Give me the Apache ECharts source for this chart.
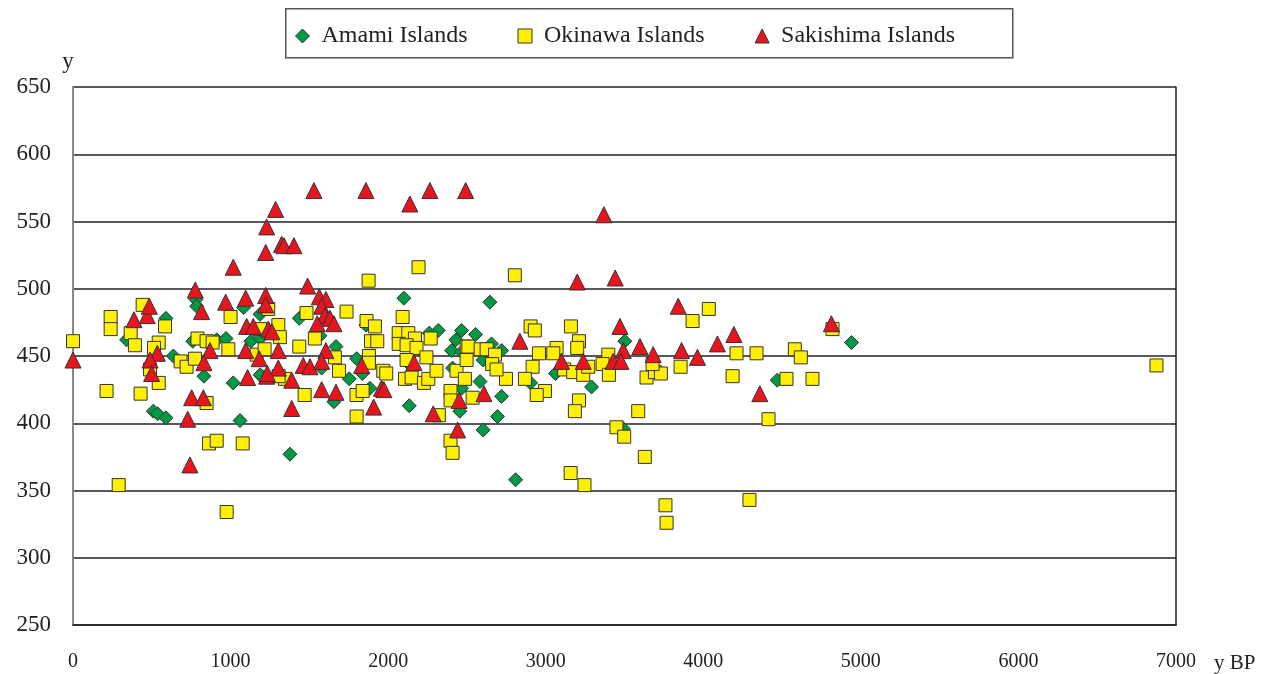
<!DOCTYPE html>
<html>
<head>
<meta charset="utf-8">
<script src="https://cdn.jsdelivr.net/npm/echarts@6/dist/echarts.min.js"></script>
<style>
  html, body { margin: 0; padding: 0; background: #fff; }
  #scatter { width: 1271px; height: 674px; }
</style>
</head>
<body>
<div id="scatter"></div>
<script>
// [yBP, y]
const amami = [
  [340, 462], [590, 478], [780, 492], [785, 487], [760, 461], [912, 462], [971, 463],
  [1083, 486], [1129, 461], [1187, 463], [1187, 481], [2100, 493], [1436, 478], [1859, 473],
  [1567, 465], [1669, 457], [2261, 467], [2318, 469], [2466, 469], [2430, 462], [2403, 454],
  [2466, 453], [2646, 490], [2555, 466], [3502, 461], [2656, 459], [2720, 454], [4941, 460],
  [637, 450], [831, 435], [510, 409], [537, 407], [590, 404], [1017, 430], [1197, 435],
  [1060, 402], [1377, 377], [1656, 416], [1578, 441], [1753, 433], [1836, 437], [1884, 426],
  [1800, 448], [2141, 443], [2134, 413], [2455, 409], [2466, 426], [2409, 441], [1188, 436],
  [2904, 430], [3062, 437], [3291, 427], [3492, 396], [2809, 358], [2603, 447], [2583, 431],
  [2720, 420], [2694, 405], [2603, 395], [4469, 432]
];

const okinawa = [
  [0, 461], [239, 479], [239, 470], [213, 424], [290, 354], [366, 467], [393, 458],
  [442, 488], [429, 422], [584, 472], [544, 460], [514, 456], [544, 430], [489, 440],
  [683, 446], [721, 442], [774, 448], [790, 463], [848, 461], [886, 460], [986, 455],
  [1000, 479], [848, 415], [863, 385], [912, 387], [1077, 385], [975, 334], [1187, 470],
  [1165, 451], [1239, 485], [1303, 473], [1313, 464], [1216, 455], [1345, 433], [1305, 435],
  [1482, 482], [1436, 457], [1470, 421], [1535, 463], [1736, 483], [1876, 506], [2193, 516],
  [2092, 479], [1863, 476], [1916, 472], [1891, 461], [1931, 461], [2067, 467], [2128, 467],
  [2170, 463], [2270, 463], [2067, 459], [2117, 458], [2180, 456], [2498, 457], [1662, 449],
  [1688, 439], [1799, 421], [1838, 424], [1800, 405], [1969, 439], [1988, 437], [1878, 450],
  [1878, 445], [2107, 433], [2149, 434], [2227, 430], [2255, 433], [2307, 439], [2243, 449],
  [2117, 447], [2322, 406], [2396, 424], [2396, 417], [2396, 387], [2409, 378], [2434, 439],
  [2487, 433], [2804, 510], [2904, 472], [2931, 469], [3160, 472], [2509, 457], [2587, 455],
  [2625, 455], [2678, 451], [3211, 461], [3200, 456], [3069, 456], [2957, 452], [3048, 452],
  [3397, 451], [4035, 485], [3932, 476], [4820, 470], [4211, 452], [4338, 452], [4581, 455],
  [4619, 449], [2917, 442], [2868, 433], [2748, 433], [2995, 424], [2943, 421], [3117, 440],
  [3174, 438], [3238, 436], [3270, 442], [3211, 417], [3185, 409], [3361, 444], [3401, 436],
  [3587, 409], [3449, 397], [3498, 390], [3629, 375], [3158, 363], [3246, 354], [3760, 339],
  [3767, 326], [2536, 419], [2498, 447], [2660, 444], [2688, 440], [3640, 434], [3693, 438],
  [3731, 437], [3678, 444], [3856, 442], [4186, 435], [4528, 433], [4693, 433], [4414, 403],
  [4293, 343], [6876, 443]
];

const sakishima = [
  [0, 447], [387, 477], [471, 480], [484, 487], [535, 452], [489, 447], [499, 437],
  [776, 499], [816, 483], [969, 490], [1096, 493], [1017, 516], [1223, 527], [1229, 546],
  [1223, 495], [1223, 488], [869, 454], [1096, 454], [1102, 472], [1144, 472], [1182, 448],
  [1529, 573], [1859, 573], [2265, 573], [2492, 573], [2138, 563], [1286, 559], [1324, 533],
  [1339, 532], [1402, 532], [1489, 502], [1563, 494], [1605, 492], [1578, 487], [1599, 480],
  [1631, 478], [1656, 474], [1550, 474], [1240, 470], [1262, 468], [1605, 454], [1303, 454],
  [3369, 555], [3200, 505], [3441, 508], [3471, 472], [2836, 461], [3598, 457], [3492, 454],
  [3682, 451], [3841, 487], [4813, 474], [4194, 466], [4090, 459], [3862, 454], [3963, 449],
  [831, 445], [728, 403], [753, 419], [827, 419], [1108, 434], [1229, 435], [742, 369],
  [1388, 411], [1578, 425], [1669, 423], [1388, 432], [1461, 443], [1504, 442], [1578, 446],
  [1832, 443], [1958, 426], [1973, 425], [1908, 412], [2164, 445], [2286, 407], [2451, 417],
  [2441, 395], [1303, 441], [1233, 437], [3100, 446], [3238, 446], [3428, 446], [3477, 446],
  [4359, 422], [2608, 422]
];

const seriesNames = ['Amami Islands', 'Okinawa Islands', 'Sakishima Islands'];
const xTicks = { min: 0, max: 7000, step: 1000 };
const yTicks = { min: 250, max: 650, step: 50 };

const serif = '"Liberation Serif", "DejaVu Serif", serif';

const chart = echarts.init(document.getElementById('scatter'));
chart.setOption({
  animation: false,
  backgroundColor: '#fff',
  grid: {
    left: 73,
    right: 95,
    top: 87,
    bottom: 49
  },
  // 凡例の枠
  graphic: [
    {
      type: 'rect',
      left: 285,
      top: 8,
      shape: { width: 727, height: 49 },
      style: { fill: '#fff', stroke: '#555', lineWidth: 1.5 },
      z: 0
    }
  ],
  legend: {
    left: 290,
    top: 19,
    itemWidth: 14,
    itemHeight: 14,
    itemGap: 50,
    itemStyle: { borderColor: '#333', borderWidth: 1 },
    textStyle: {
      fontFamily: serif,
      fontSize: 24,
      color: '#222',
      padding: [0, 0, 0, 7]
    },
    data: [
      { name: seriesNames[0], icon: 'diamond' },
      { name: seriesNames[1], icon: 'rect' },
      { name: seriesNames[2], icon: 'triangle' }
    ],
    z: 5
  },
  xAxis: {
    type: 'value',
    min: xTicks.min,
    max: xTicks.max,
    interval: xTicks.step,
    name: 'y BP',
    nameLocation: 'end',
    nameGap: 38,
    nameTextStyle: {
      fontFamily: serif,
      fontSize: 21,
      color: '#222',
      verticalAlign: 'top',
      padding: [28, 0, 0, 0]
    },
    axisLine: { show: true, lineStyle: { color: '#222', width: 1.5 } },
    axisTick: { show: false },
    splitLine: { show: false },
    axisLabel: {
      margin: 27,
      fontFamily: serif,
      fontSize: 20,
      color: '#222',
      formatter: (v) => String(v)
    }
  },
  yAxis: [
    {
      type: 'value',
      min: yTicks.min,
      max: yTicks.max,
      interval: yTicks.step,
      name: 'y',
      nameLocation: 'end',
      nameGap: 14,
      nameTextStyle: {
        fontFamily: serif,
        fontSize: 23,
        color: '#222',
        padding: [0, 10, 0, 0]
      },
      axisLine: { show: true, lineStyle: { color: '#888', width: 2 } },
      axisTick: { show: false },
      splitLine: { show: true, lineStyle: { color: '#222', width: 1.5 } },
      axisLabel: {
        margin: 22,
        fontFamily: serif,
        fontSize: 23,
        color: '#222'
      }
    },
    {
      // 右側の枠線
      type: 'value',
      position: 'right',
      min: yTicks.min,
      max: yTicks.max,
      interval: yTicks.step,
      axisLine: { show: true, lineStyle: { color: '#222', width: 1.5 } },
      axisTick: { show: false },
      axisLabel: { show: false },
      splitLine: { show: false }
    }
  ],
  series: [
    {
      name: seriesNames[0],
      type: 'scatter',
      symbol: 'diamond',
      symbolSize: 14,
      itemStyle: { color: '#009a44', borderColor: '#333', borderWidth: 1, opacity: 1 },
      data: amami
    },
    {
      name: seriesNames[1],
      type: 'scatter',
      symbol: 'rect',
      symbolSize: 13,
      itemStyle: { color: '#fff000', borderColor: '#333', borderWidth: 1, opacity: 1 },
      data: okinawa
    },
    {
      name: seriesNames[2],
      type: 'scatter',
      symbol: 'triangle',
      symbolSize: 16,
      itemStyle: { color: '#e8141e', borderColor: '#333', borderWidth: 1, opacity: 1 },
      data: sakishima
    }
  ]
});
</script>
</body>
</html>
